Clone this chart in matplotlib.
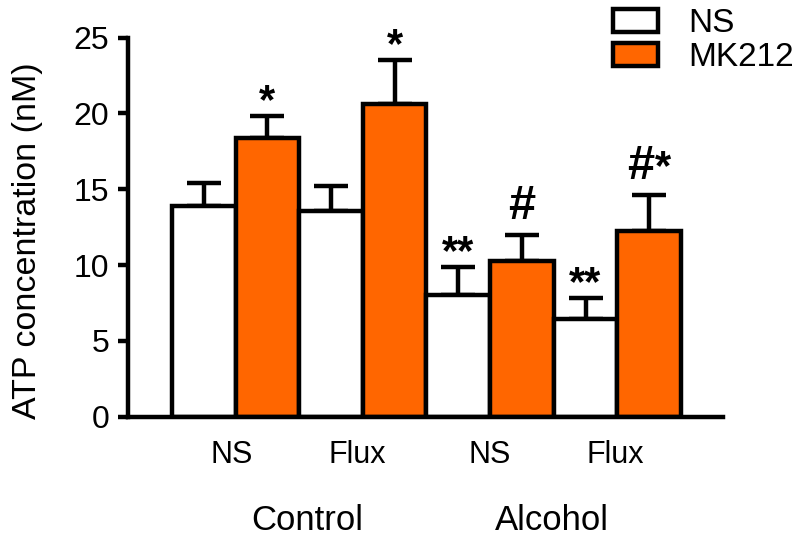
import matplotlib.pyplot as plt
from matplotlib.patches import Patch
from matplotlib.transforms import blended_transform_factory, offset_copy

# ATP concentration (nM), bars in order: Control NS, Control Flux, Alcohol NS, Alcohol Flux
# each pair = (NS treatment, MK212 treatment)
treatments = ["NS", "MK212"]
subgroups = ["NS", "Flux", "NS", "Flux"]
groups = ["Control", "Alcohol"]
ns_means = [13.9, 13.6, 8.0, 6.45]
ns_sem = [1.5, 1.65, 1.85, 1.35]
mk_means = [18.4, 20.6, 10.3, 12.25]
mk_sem = [1.45, 2.9, 1.7, 2.4]
ns_marks = ["", "", "**", "**"]
mk_marks = ["*", "*", "#", "#*"]

orange = "#ff6600"
lw = 3.2

plt.rcParams["font.family"] = ["Liberation Sans", "DejaVu Sans"]

fig = plt.figure(figsize=(7.95, 5.38), dpi=100)
ax = fig.add_axes([128 / 795, 1 - 416.7 / 538, 595 / 795, 379 / 538])


def draw_mark(x, top, mark):
    # '#' is drawn larger than the asterisks, sits a bit higher over the cap
    if not mark:
        return
    if "#" not in mark:
        ax.text(x, top + 0.2, mark, ha="center", va="baseline",
                fontsize=30, fontweight="bold")
    elif mark == "#":
        ax.text(x, top + 1.05, mark, ha="center", va="baseline",
                fontsize=35, fontweight="bold")
    else:
        tr = offset_copy(ax.transData, fig=fig, x=4, y=0, units="points")
        ax.text(x, top + 1.05, "#", ha="right", va="baseline", transform=tr,
                fontsize=35, fontweight="bold")
        ax.text(x, top + 1.05, mark[1:], ha="left", va="baseline",
                transform=tr, fontsize=30, fontweight="bold")


# interleave NS / MK212 bars, width 1, contiguous
for i in range(len(subgroups)):
    x_ns = 2 * i + 0.5
    x_mk = 2 * i + 1.5
    ax.errorbar(x_ns, ns_means[i], yerr=[[0], [ns_sem[i]]], fmt="none",
                ecolor="black", elinewidth=lw, capsize=12.5, capthick=lw, zorder=1)
    ax.errorbar(x_mk, mk_means[i], yerr=[[0], [mk_sem[i]]], fmt="none",
                ecolor="black", elinewidth=lw, capsize=12.5, capthick=lw, zorder=1)
    ax.bar(x_ns, ns_means[i], width=1, color="white", edgecolor="black",
           linewidth=lw, zorder=2)
    ax.bar(x_mk, mk_means[i], width=1, color=orange, edgecolor="black",
           linewidth=lw, zorder=2)
    draw_mark(x_ns, ns_means[i] + ns_sem[i], ns_marks[i])
    draw_mark(x_mk, mk_means[i] + mk_sem[i], mk_marks[i])

ax.set_xlim(-0.69, 8.66)
ax.set_ylim(0, 25)
ax.set_yticks([0, 5, 10, 15, 20, 25])
ax.tick_params(axis="y", length=7.5, width=lw, labelsize=23, pad=6)
ax.set_xticks([])
for s in ["top", "right"]:
    ax.spines[s].set_visible(False)
for s in ["left", "bottom"]:
    ax.spines[s].set_linewidth(lw)

ax.set_ylabel("ATP concentration (nM)", fontsize=24.5)
ax.yaxis.set_label_coords(-0.143, 0.465)

# category labels under the axis
trans = blended_transform_factory(ax.transData, ax.transAxes)
sub_x = [0.94, 2.92, 5.0, 6.97]
for x, lab in zip(sub_x, subgroups):
    ax.text(x, (416.7 - 463) / 379, lab, transform=trans, ha="center",
            va="baseline", fontsize=22)
group_x = [2.12, 5.97]
for x, lab in zip(group_x, groups):
    ax.text(x, (416.7 - 530) / 379, lab, transform=trans, ha="center",
            va="baseline", fontsize=25)

handles = [Patch(facecolor="white", edgecolor="black", linewidth=lw),
           Patch(facecolor=orange, edgecolor="black", linewidth=lw)]
fig.legend(handles, treatments, loc="upper left",
           bbox_to_anchor=(613 / 795, 1 - 8 / 538), frameon=False,
           fontsize=24, borderpad=0, borderaxespad=0, handlelength=1.35,
           handleheight=0.69, handletextpad=0.9, labelspacing=0.1)

fig.savefig("out.png", dpi=100)
